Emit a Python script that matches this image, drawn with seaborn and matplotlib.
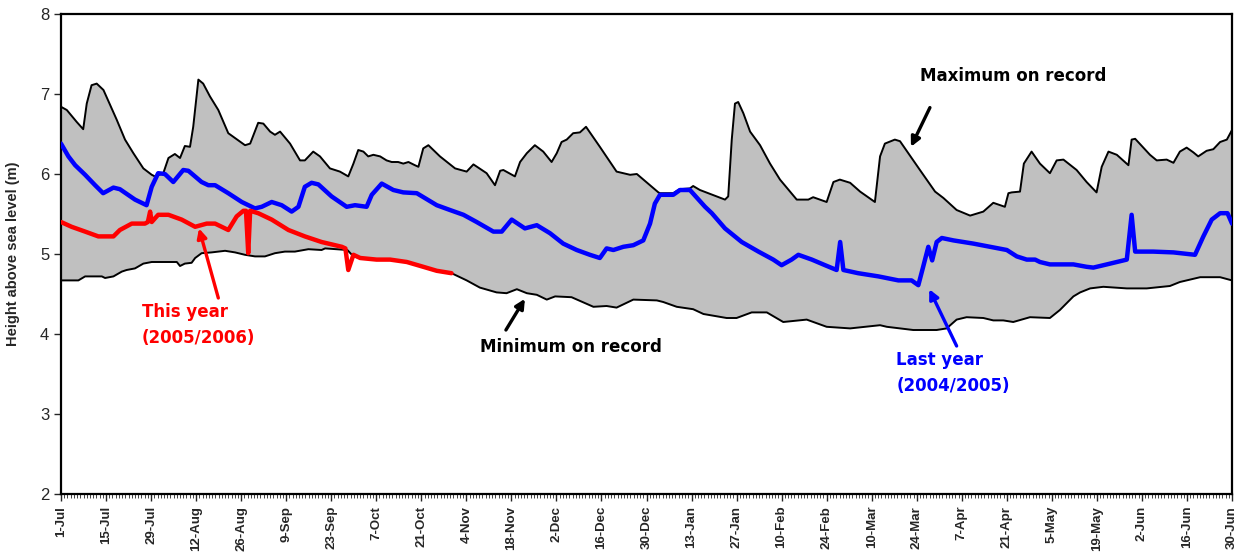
import numpy as np
import pandas as pd
import seaborn as sns
import matplotlib.pyplot as plt
from matplotlib.ticker import MultipleLocator, FixedLocator

# day of the water year (0 = 1-Jul, 364 = 30-Jun) and height above sea level (m)
max_days = [0, 1.8, 4.9, 6.9, 8, 9.5, 11.1, 13.2, 17.3, 19.9, 22.5, 25.6, 28.2, 29.2,
            31.8, 33.4, 35.4, 37.0, 38.5, 40.1, 41.1, 42.7, 44.2, 46.3, 48.9, 52.0,
            54.1, 57.2, 58.8, 61.3, 62.9, 65.0, 66.5, 68.1, 71.2, 74.3, 75.8, 78.4,
            80.5, 83.6, 86.7, 89.3, 90.9, 92.4, 94.0, 95.5, 97.1, 99.2, 101.2, 102.8,
            104.8, 106.4, 108.0, 110.0, 111.1, 112.6, 114.2, 117.8, 122.5, 126.1,
            128.2, 132.3, 134.9, 136.5, 137.5, 141.1, 142.7, 144.8, 147.3, 149.9,
            152.5, 154.1, 155.6, 157.2, 159.2, 161.3, 163.2, 167.5, 172.7, 176.9,
            179.0, 185.7, 186.2, 190.3, 192.3, 195.5, 196.5, 198.6, 206.4, 207.4,
            208.5, 209.5, 210.5, 212.1, 214.2, 217.3, 220.4, 223.5, 228.7, 232.3,
            233.8, 235.9, 238.0, 240.1, 242.1, 245.3, 248.4, 253.0, 254.6, 256.1,
            259.2, 260.8, 267.0, 271.7, 274.3, 278.4, 282.6, 286.7, 289.8, 293.4,
            294.5, 295.5, 298.1, 299.3, 301.7, 304.3, 307.4, 309.5, 311.6, 315.7,
            318.8, 321.9, 323.5, 325.6, 328.2, 331.8, 332.8, 333.9, 338.5, 340.6,
            343.7, 345.8, 347.8, 349.9, 352.0, 353.5, 356.1, 358.2, 360.3, 362.4, 364]
max_vals = [6.84, 6.80, 6.65, 6.56, 6.88, 7.11, 7.13, 7.05, 6.68, 6.43, 6.26, 6.07, 5.99, 5.97,
            6.01, 6.20, 6.25, 6.20, 6.35, 6.34, 6.59, 7.18, 7.13, 6.97, 6.80, 6.51,
            6.45, 6.36, 6.38, 6.64, 6.63, 6.53, 6.49, 6.53, 6.38, 6.17, 6.17, 6.28,
            6.22, 6.07, 6.03, 5.97, 6.13, 6.30, 6.28, 6.22, 6.24, 6.22, 6.17, 6.15,
            6.15, 6.13, 6.15, 6.11, 6.09, 6.32, 6.36, 6.22, 6.07, 6.03,
            6.12, 6.01, 5.86, 6.04, 6.05, 5.97, 6.15, 6.26, 6.36, 6.28,
            6.15, 6.26, 6.40, 6.43, 6.51, 6.52, 6.59, 6.34, 6.03, 5.99,
            6.00, 5.77, 5.76, 5.76, 5.81, 5.82, 5.85, 5.80, 5.68, 5.72,
            6.43, 6.88, 6.90, 6.76, 6.53, 6.36, 6.13, 5.93, 5.68, 5.68,
            5.71, 5.68, 5.65, 5.90, 5.93, 5.89, 5.78, 5.65, 6.22, 6.38,
            6.43, 6.41, 6.05, 5.78, 5.70, 5.55, 5.48, 5.53, 5.64, 5.59,
            5.76, 5.77, 5.78, 6.13, 6.28, 6.13, 6.01, 6.17, 6.18, 6.05,
            5.90, 5.77, 6.09, 6.28, 6.24, 6.11, 6.43, 6.44, 6.24, 6.17,
            6.18, 6.14, 6.28, 6.33, 6.27, 6.22, 6.29, 6.31, 6.40, 6.43, 6.55]

min_days = [0, 5.4, 7.5, 12.7, 13.7, 16.3, 18.9, 20.4, 23.0, 25.6, 28.2, 36.0, 37.0, 38.5,
            40.6, 41.7, 43.7, 46.8, 51.0, 54.1, 57.2, 60.3, 63.4, 66.5, 69.6, 72.7,
            76.9, 81.0, 82.1, 89.0, 90.9, 93.0, 98.0, 103.0, 107.4, 112.6, 116.8, 121.4,
            126.1, 130.2, 135.4, 138.5, 141.7, 144.8, 147.9, 151.0, 153.6, 158.7,
            165.5, 169.6, 172.7, 177.9, 185.2, 187.2, 191.4, 196.5, 199.7, 206.9,
            210.0, 214.7, 219.4, 224.5, 231.8, 238.0, 245.3, 254.6, 256.7, 264.9,
            272.2, 275.3, 278.4, 281.5, 286.7, 289.8, 292.9, 296.0, 301.2, 307.4,
            310.5, 314.7, 316.8, 319.9, 324.0, 331.3, 337.5, 344.7, 347.8, 354.1,
            360.3, 364]
min_vals = [4.67, 4.67, 4.72, 4.72, 4.70, 4.72, 4.78, 4.80, 4.82, 4.88, 4.90, 4.90, 4.85, 4.88,
            4.89, 4.95, 5.01, 5.02, 5.04, 5.02, 4.99, 4.97, 4.97, 5.01, 5.03, 5.03,
            5.06, 5.05, 5.07, 5.05, 4.97, 4.95, 4.93, 4.93, 4.90, 4.84, 4.79, 4.76,
            4.67, 4.58, 4.52, 4.51, 4.56, 4.51, 4.49, 4.43, 4.47, 4.46,
            4.34, 4.35, 4.33, 4.43, 4.42, 4.40, 4.34, 4.31, 4.25, 4.20,
            4.20, 4.27, 4.27, 4.15, 4.18, 4.09, 4.07, 4.11, 4.09, 4.05,
            4.05, 4.07, 4.18, 4.21, 4.20, 4.17, 4.17, 4.15, 4.21, 4.20,
            4.30, 4.47, 4.52, 4.57, 4.59, 4.57, 4.57, 4.60, 4.65, 4.71,
            4.71, 4.67]

last_days = [0, 2.3, 4.4, 7.5, 10.6, 13.1, 16.3, 18.3, 23.0, 26.6, 28.2, 30.2, 32.3, 34.9,
             38.0, 39.6, 43.7, 45.8, 47.9, 52.0, 56.2, 60.3, 62.4, 65.5, 68.6, 71.7,
             73.8, 75.8, 77.9, 80.0, 84.1, 88.8, 91.4, 95.0, 96.6, 99.7, 103.3, 106.4,
             110.6, 116.8, 120.9, 125.1, 129.2, 134.4, 137.0, 140.1, 144.2, 147.9,
             152.0, 156.1, 160.3, 164.4, 167.5, 169.6, 171.7, 174.8, 177.9, 181.0,
             183.1, 184.6, 186.2, 190.3, 192.4, 195.5, 200.2, 202.3, 206.4, 211.6,
             216.8, 221.4, 224.0, 227.1, 229.2, 233.4, 237.5, 241.1, 242.2, 243.2,
             247.8, 254.1, 260.3, 264.4, 266.5, 268.0, 269.6, 270.8, 272.2, 273.8,
             277.4, 283.6, 288.8, 294.0, 297.1, 300.2, 302.8, 304.3, 307.4, 314.7,
             318.8, 320.9, 325.1, 328.2, 331.3, 332.8, 333.9, 339.5, 345.8, 352.5,
             355.1, 357.7, 360.3, 362.6, 364]
last_vals = [6.38, 6.22, 6.11, 5.99, 5.86, 5.76, 5.83, 5.81, 5.68, 5.61, 5.84, 6.01, 6.00, 5.90,
             6.05, 6.04, 5.90, 5.86, 5.86, 5.76, 5.65, 5.57, 5.59, 5.65, 5.61, 5.53,
             5.59, 5.84, 5.89, 5.87, 5.72, 5.59, 5.61, 5.59, 5.74, 5.88, 5.80, 5.77,
             5.76, 5.61, 5.55, 5.49, 5.40, 5.28, 5.28, 5.43, 5.32, 5.36,
             5.26, 5.13, 5.05, 4.99, 4.95, 5.07, 5.05, 5.09, 5.11, 5.17,
             5.38, 5.63, 5.74, 5.74, 5.80, 5.80, 5.59, 5.51, 5.32, 5.15,
             5.03, 4.93, 4.86, 4.93, 4.99, 4.93, 4.86, 4.80, 5.15, 4.80,
             4.76, 4.72, 4.67, 4.67, 4.61, 4.84, 5.09, 4.92, 5.15, 5.20,
             5.17, 5.13, 5.09, 5.05, 4.97, 4.93, 4.93, 4.90, 4.87, 4.87,
             4.84, 4.83, 4.87, 4.90, 4.93, 5.49, 5.03, 5.03, 5.02, 4.99,
             5.22, 5.43, 5.51, 5.51, 5.38]

this_days = [0, 3.3, 7.5, 11.6, 16.3, 18.3, 22.0, 26.1, 27.0, 27.7, 28.2, 30.2, 33.4, 37.5,
             41.7, 45.3, 47.9, 52.0, 54.6, 56.7, 57.5, 58.2, 58.8, 61.3, 65.5, 70.7,
             75.8, 81.0, 87.3, 88.4, 89.3, 90.9, 93.0, 98.1, 102.3, 107.5, 112.6,
             116.8, 121.4]
this_vals = [5.40, 5.34, 5.28, 5.22, 5.22, 5.30, 5.38, 5.38, 5.40, 5.53, 5.40, 5.49, 5.49, 5.43,
             5.34, 5.38, 5.38, 5.30, 5.47, 5.54, 5.54, 5.01, 5.54, 5.51, 5.43, 5.30,
             5.22, 5.15, 5.09, 5.07, 4.80, 4.99, 4.95, 4.93, 4.93, 4.90, 4.84,
             4.79, 4.76]

tick_days = list(range(0, 365, 14))
tick_dates = pd.Timestamp('2005-07-01') + pd.to_timedelta(tick_days, unit='D')
tick_labels = [f'{d.day}-{d.strftime("%b")}' for d in tick_dates]

###############################################################################

sns.set_style('ticks')
plt.rcParams['font.family'] = ['Liberation Sans', 'DejaVu Sans']

max_df = pd.DataFrame({'day': max_days, 'height': max_vals})
min_df = pd.DataFrame({'day': min_days, 'height': min_vals})
last_df = pd.DataFrame({'day': last_days, 'height': last_vals})
this_df = pd.DataFrame({'day': this_days, 'height': this_vals})

fig = plt.figure(figsize=(12.45, 5.6), dpi=100)
ax = fig.add_axes([61 / 1245, 66 / 560, 1171 / 1245, 480 / 560])

# grey band between record max and record min
ax.fill(np.r_[max_df['day'], min_df['day'][::-1]],
        np.r_[max_df['height'], min_df['height'][::-1]],
        color='#c0c0c0', lw=0, zorder=1)

sns.lineplot(data=max_df, x='day', y='height', color='black', lw=1.4,
             estimator=None, sort=False, ax=ax, zorder=2)
sns.lineplot(data=min_df, x='day', y='height', color='black', lw=1.4,
             estimator=None, sort=False, ax=ax, zorder=2)
sns.lineplot(data=last_df, x='day', y='height', color='#0000ff', lw=3.2,
             estimator=None, sort=False, ax=ax, zorder=3)
sns.lineplot(data=this_df, x='day', y='height', color='#ff0000', lw=3.2,
             estimator=None, sort=False, ax=ax, zorder=4)

ax.set_xlim(0, 364)
ax.set_ylim(2, 8)
ax.xaxis.set_major_locator(FixedLocator(tick_days))
ax.set_xticklabels(tick_labels, rotation=90, fontsize=9.5, fontweight='bold')
ax.xaxis.set_minor_locator(MultipleLocator(1))
ax.tick_params(axis='x', which='major', length=5, width=1, direction='out')
ax.tick_params(axis='x', which='minor', length=3, width=0.6, direction='out')
ax.tick_params(axis='y', labelsize=12, length=5, width=1)
ax.set_xlabel('')
ax.set_ylabel('Height above sea level (m)', fontsize=10.5, fontweight='bold', labelpad=14)
for sp in ax.spines.values():
    sp.set_visible(True)
    sp.set_linewidth(1.6)
    sp.set_color('black')

# wider bold face for the annotations, closer to the spaced-out lettering
txt = dict(fontsize=12, fontweight='bold', family='DejaVu Sans')
ax.text(296, 7.22, 'Maximum on record', ha='center', va='center', color='black', **txt)
ax.text(158.5, 3.84, 'Minimum on record', ha='center', va='center', color='black', **txt)
ax.text(25.1, 4.28, 'This year', ha='left', va='center', color='#ff0000', **txt)
ax.text(25.1, 3.95, '(2005/2006)', ha='left', va='center', color='#ff0000', **txt)
ax.text(259.6, 3.68, 'Last year', ha='left', va='center', color='#0000ff', **txt)
ax.text(259.6, 3.35, '(2004/2005)', ha='left', va='center', color='#0000ff', **txt)

arrow = dict(arrowstyle='-|>', lw=2.4, mutation_scale=14, shrinkA=0, shrinkB=0)
ax.annotate('', xy=(264.2, 6.34), xytext=(270.1, 6.83),
            arrowprops=dict(color='black', **arrow), zorder=5)
ax.annotate('', xy=(144.2, 4.44), xytext=(138.3, 4.05),
            arrowprops=dict(color='black', **arrow), zorder=5)
ax.annotate('', xy=(42.9, 5.32), xytext=(48.9, 4.45),
            arrowprops=dict(color='#ff0000', **arrow), zorder=5)
ax.annotate('', xy=(269.9, 4.56), xytext=(278.4, 3.85),
            arrowprops=dict(color='#0000ff', **arrow), zorder=5)

fig.savefig('out.png', dpi=100)
